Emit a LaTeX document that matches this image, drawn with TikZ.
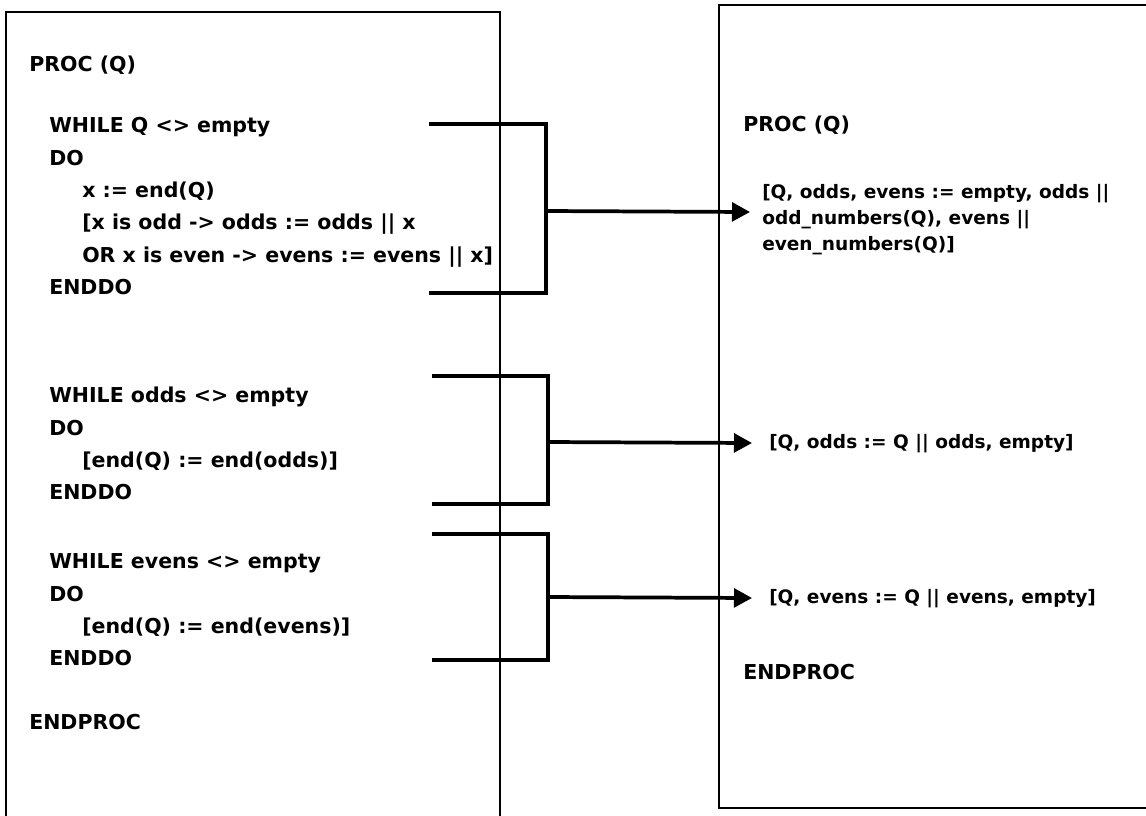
\documentclass[tikz,border=0pt]{standalone}
\usepackage{fontspec}
\setmainfont{DejaVu Sans}
\usetikzlibrary{arrows.meta}

\begin{document}
\begin{tikzpicture}[x=0.75pt,y=-0.75pt,>={Triangle[length=13.5pt,width=14pt]},
	code/.style={anchor=base west,inner sep=0pt,font=\bfseries\fontsize{15.4}{18}\selectfont},
	stmt/.style={anchor=base west,inner sep=0pt,font=\bfseries\fontsize{13.9}{16}\selectfont},
	frame/.style={line width=1.6pt},
	brace/.style={line width=2.8pt}]
    \useasboundingbox (0,0) rectangle (1146,815);
    % the two frames
    \draw[frame] (6,820) -- (6,12) -- (500,12) -- (500,820);
    \draw[frame] (1150,5) -- (719,5) -- (719,808) -- (1150,808);
    % create the nodes (left)
    \node[code] (proc) at (29,71) {PROC (Q)};
    \node[code] (whileq) at (49,132) {WHILE Q <> empty};
    \node[code] (doq) at (49,165) {DO};
    \node[code] (getx) at (82,197) {x := end(Q)};
    \node[code] (isodd) at (82,229) {[x is odd -> odds := odds || x};
    \node[code] (iseven) at (82,262) {OR x is even -> evens := evens || x]};
    \node[code] (enddoq) at (49,294) {ENDDO};
    \node[code] (whileodds) at (49,402) {WHILE odds <> empty};
    \node[code] (doodds) at (49,435) {DO};
    \node[code] (endodds) at (82,467) {[end(Q) := end(odds)]};
    \node[code] (enddoodds) at (49,499) {ENDDO};
    \node[code] (whileevens) at (49,568) {WHILE evens <> empty};
    \node[code] (doevens) at (49,601) {DO};
    \node[code] (endevens) at (82,633) {[end(Q) := end(evens)]};
    \node[code] (enddoevens) at (49,665) {ENDDO};
    \node[code] (endproc) at (29,729) {ENDPROC};
    % create the nodes (right)
    \node[code] (rproc) at (743,131) {PROC (Q)};
    \node[stmt] (split1) at (762,198) {[Q, odds, evens := empty, odds ||};
    \node[stmt] (split2) at (762,224) {odd\_numbers(Q), evens ||};
    \node[stmt] (split3) at (762,250) {even\_numbers(Q)]};
    \node[stmt] (joinodds) at (769,448) {[Q, odds := Q || odds, empty]};
    \node[stmt] (joinevens) at (769,603) {[Q, evens := Q || evens, empty]};
    \node[code] (rendproc) at (743,679) {ENDPROC};
    % bracket ends
    \coordinate (b1top) at (429,124);
    \coordinate (b1bot) at (429,293);
    \coordinate (b1mid) at (546,211);
    \coordinate (tip1) at (750,212);
    \coordinate (b2top) at (432,376);
    \coordinate (b2bot) at (432,504);
    \coordinate (b2mid) at (548,442);
    \coordinate (tip2) at (752,443);
    \coordinate (b3top) at (432,534);
    \coordinate (b3bot) at (432,660);
    \coordinate (b3mid) at (548,597);
    \coordinate (tip3) at (752,598);
    % connect the nodes
    \draw[brace] (b1top) -| (b1mid) |- (b1bot);
    \draw[brace] (b2top) -| (b2mid) |- (b2bot);
    \draw[brace] (b3top) -| (b3mid) |- (b3bot);
    \draw[brace,->] (b1mid) -- (tip1);
    \draw[brace,->] (b2mid) -- (tip2);
    \draw[brace,->] (b3mid) -- (tip3);
\end{tikzpicture}
\end{document}
